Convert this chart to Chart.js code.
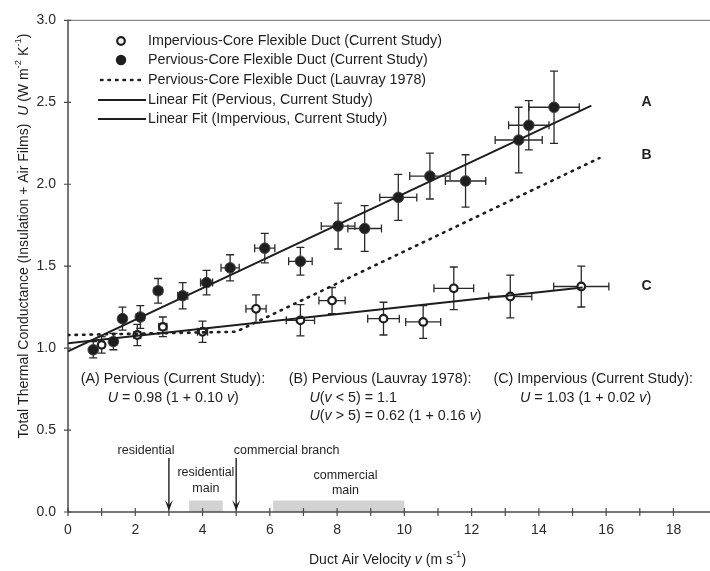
<!DOCTYPE html>
<html><head><meta charset="utf-8">
<script src="https://cdn.jsdelivr.net/npm/chart.js@4.4.1/dist/chart.umd.min.js"></script>
<style>html,body{margin:0;padding:0;background:#fff;overflow:hidden}canvas{display:block}</style>
</head><body>
<canvas id="c" width="710" height="571"></canvas>
<script>
const FONT = '"Liberation Sans", Arial, Helvetica, sans-serif';

// Pervious-core (filled) measurements
const pervV    = [0.75, 1.35, 1.62, 2.15, 2.68, 3.41, 4.12, 4.82, 5.85, 6.91, 8.03, 8.82, 9.82, 10.76, 11.82, 13.4, 13.7, 14.45];
const pervU    = [0.99, 1.04, 1.18, 1.19, 1.35, 1.32, 1.40, 1.49, 1.61, 1.53, 1.745, 1.73, 1.92, 2.05, 2.02, 2.27, 2.36, 2.47];
const pervVErr = [0.08, 0.10, 0.10, 0.12, 0.12, 0.15, 0.18, 0.27, 0.30, 0.35, 0.50, 0.50, 0.55, 0.60, 0.60, 0.70, 0.60, 0.75];
const pervUErr = [0.05, 0.05, 0.07, 0.07, 0.075, 0.08, 0.075, 0.08, 0.09, 0.085, 0.14, 0.14, 0.14, 0.14, 0.16, 0.20, 0.15, 0.22];

// Impervious-core (open) measurements
const imperV    = [1.0, 2.06, 2.82, 4.0, 5.59, 6.91, 7.85, 9.38, 10.56, 11.47, 13.15, 15.26];
const imperU    = [1.02, 1.08, 1.13, 1.10, 1.24, 1.17, 1.29, 1.18, 1.16, 1.365, 1.315, 1.376];
const imperVErr = [0.08, 0.10, 0.12, 0.15, 0.30, 0.42, 0.39, 0.47, 0.52, 0.59, 0.64, 0.82];
const imperUErr = [0.05, 0.065, 0.06, 0.065, 0.085, 0.095, 0.08, 0.10, 0.10, 0.13, 0.13, 0.125];

// Lines
const fitAV = [0, 15.56], fitAU = [0.98, 2.48];
const fitCV = [0, 15.3],  fitCU = [1.03, 1.37];
const lauvV = [0, 5, 15.8], lauvU = [1.08, 1.10, 2.16];

// Velocity ranges & markers
const boxFrom = [3.6, 6.1], boxTo = [4.6, 10.0], boxTop = [0.07, 0.07];
const arrowV = [3, 5], arrowTop = [0.33, 0.33];

// Ticks
const xTickValues = [0,1,2,3,4,5,6,7,8,9,10,11,12,13,14,15,16,17,18];
const xLabelValues = [0,2,4,6,8,10,12,14,16,18];
const yTickValues = [0, 0.5, 1.0, 1.5, 2.0, 2.5, 3.0];

const pts = (xs, ys) => xs.map((v, i) => ({x: v, y: ys[i]}));
const INK = '#1e1e1e';

function rich(ctx, parts, x, y, size, align) {
  const fontFor = (st, sz) => (st && st.includes('i') ? 'italic ' : '') + (st && st.includes('b') ? 'bold ' : '') + sz + 'px ' + FONT;
  let total = 0;
  parts.forEach(p => { const sz = p[1] && p[1].includes('s') ? size * 0.68 : size; ctx.font = fontFor(p[1], sz); total += ctx.measureText(p[0]).width; });
  let cx = align === 'center' ? x - total / 2 : (align === 'right' ? x - total : x);
  ctx.textAlign = 'left'; ctx.textBaseline = 'middle';
  parts.forEach(p => {
    const sup = p[1] && p[1].includes('s');
    const sz = sup ? size * 0.68 : size;
    ctx.font = fontFor(p[1], sz);
    ctx.fillText(p[0], cx, sup ? y - size * 0.38 : y);
    cx += ctx.measureText(p[0]).width;
  });
}

const deco = {
  id: 'deco',
  beforeDatasetsDraw(chart) {
    const {ctx, scales: {x, y}} = chart;
    ctx.save();
    ctx.fillStyle = '#d2d2d2';
    boxFrom.forEach((f, i) => {
      const x0 = x.getPixelForValue(f), x1 = x.getPixelForValue(boxTo[i]);
      const y0 = y.getPixelForValue(boxTop[i]), y1 = y.getPixelForValue(0);
      ctx.fillRect(x0, y0, x1 - x0, y1 - y0);
    });
    ctx.strokeStyle = '#4a4a4a'; ctx.lineWidth = 1.5;
    const y0 = y.getPixelForValue(0), yTop = y.getPixelForValue(3), x0 = x.getPixelForValue(0);
    ctx.beginPath();
    ctx.moveTo(x0, yTop); ctx.lineTo(x0, y0); ctx.lineTo(chart.width, y0);
    ctx.stroke();
    ctx.strokeStyle = '#8a8a8a'; ctx.lineWidth = 1.3;
    ctx.beginPath(); ctx.moveTo(x0, yTop); ctx.lineTo(chart.width, yTop); ctx.stroke();
    ctx.strokeStyle = '#4a4a4a'; ctx.lineWidth = 1.2;
    ctx.beginPath();
    xTickValues.forEach(v => { const px = x.getPixelForValue(v); ctx.moveTo(px, y0 - 4); ctx.lineTo(px, y0 + 4); });
    yTickValues.forEach(v => { const py = y.getPixelForValue(v); ctx.moveTo(x0 - 4, py); ctx.lineTo(x0 + 3, py); });
    ctx.stroke();
    ctx.strokeStyle = INK; ctx.fillStyle = INK; ctx.lineWidth = 1.4;
    arrowV.forEach((v, i) => {
      const px = x.getPixelForValue(v), pt = y.getPixelForValue(arrowTop[i]), pb = y.getPixelForValue(0) - 1;
      ctx.beginPath(); ctx.moveTo(px, pt); ctx.lineTo(px, pb - 4); ctx.stroke();
      ctx.beginPath(); ctx.moveTo(px - 4, pb - 11); ctx.lineTo(px, pb - 6); ctx.lineTo(px + 4, pb - 11); ctx.lineTo(px, pb); ctx.closePath(); ctx.fill();
    });
    ctx.strokeStyle = '#2a2a2a'; ctx.lineWidth = 1.3;
    const eb = (vs, us, ve, ue) => vs.forEach((v, i) => {
      const px = x.getPixelForValue(v), py = y.getPixelForValue(us[i]);
      const yt = y.getPixelForValue(us[i] + ue[i]), yb = y.getPixelForValue(us[i] - ue[i]);
      const xl = x.getPixelForValue(v - ve[i]), xr = x.getPixelForValue(v + ve[i]);
      const c = 4;
      ctx.beginPath();
      ctx.moveTo(px, yt); ctx.lineTo(px, yb);
      ctx.moveTo(px - c, yt); ctx.lineTo(px + c, yt);
      ctx.moveTo(px - c, yb); ctx.lineTo(px + c, yb);
      ctx.moveTo(xl, py); ctx.lineTo(xr, py);
      ctx.moveTo(xl, py - c); ctx.lineTo(xl, py + c);
      ctx.moveTo(xr, py - c); ctx.lineTo(xr, py + c);
      ctx.stroke();
    });
    eb(pervV, pervU, pervVErr, pervUErr);
    eb(imperV, imperU, imperVErr, imperUErr);
    ctx.restore();
  },
  afterDraw(chart) {
    const {ctx, scales: {x, y}} = chart;
    ctx.save();
    ctx.fillStyle = INK;
    const P = (v, u) => [x.getPixelForValue(v), y.getPixelForValue(u)];
    rich(ctx, [['Duct Air Velocity '], ['v', 'i'], [' (m s'], ['-1', 's'], [')']], x.getPixelForValue(9.5), 560, 14, 'center');
    ctx.save();
    ctx.translate(24, 236); ctx.rotate(-Math.PI / 2);
    rich(ctx, [['Total Thermal Conductance (Insulation + Air Films)  '], ['U', 'i'], [' (W m'], ['-2', 's'], [' K'], ['-1', 's'], [')']], 0, 0, 14, 'center');
    ctx.restore();
    const lx = 148, ly = [41, 60, 80, 100, 119], fs = 14.3;
    ctx.strokeStyle = INK; ctx.fillStyle = INK;
    ctx.lineWidth = 2.2;
    ctx.beginPath(); ctx.arc(121, ly[0], 3.8, 0, Math.PI * 2); ctx.fillStyle = '#fff'; ctx.fill(); ctx.stroke();
    ctx.fillStyle = INK;
    ctx.beginPath(); ctx.arc(121, ly[1], 5.2, 0, Math.PI * 2); ctx.fill();
    ctx.setLineDash([1.5, 6]); ctx.lineCap = 'round'; ctx.lineWidth = 2.6;
    ctx.beginPath(); ctx.moveTo(101, ly[2]); ctx.lineTo(146, ly[2]); ctx.stroke();
    ctx.setLineDash([]); ctx.lineCap = 'butt'; ctx.lineWidth = 1.8;
    ctx.beginPath(); ctx.moveTo(98, ly[3]); ctx.lineTo(146, ly[3]); ctx.moveTo(98, ly[4]); ctx.lineTo(146, ly[4]); ctx.stroke();
    const legendTexts = ['Impervious-Core Flexible Duct (Current Study)', 'Pervious-Core Flexible Duct (Current Study)',
      'Pervious-Core Flexible Duct (Lauvray 1978)', 'Linear Fit (Pervious, Current Study)', 'Linear Fit (Impervious, Current Study)'];
    legendTexts.forEach((t, i) => rich(ctx, [[t]], lx, ly[i], fs, 'left'));
    [['A', 2.50], ['B', 2.18], ['C', 1.376]].forEach(([t, u]) => { const [px, py] = P(17.2, u); rich(ctx, [[t, 'b']], px, py, 14, 'center'); });
    const eq = 14.3;
    let p;
    p = P(0.38, 0.81); rich(ctx, [['(A) Pervious (Current Study):']], p[0], p[1], eq, 'left');
    p = P(1.18, 0.695); rich(ctx, [['U', 'i'], [' = 0.98 (1 + 0.10 '], ['v', 'i'], [')']], p[0], p[1], eq, 'left');
    p = P(6.56, 0.81); rich(ctx, [['(B) Pervious (Lauvray 1978):']], p[0], p[1], eq, 'left');
    p = P(7.18, 0.695); rich(ctx, [['U', 'i'], ['('], ['v', 'i'], [' < 5) = 1.1']], p[0], p[1], eq, 'left');
    p = P(7.18, 0.585); rich(ctx, [['U', 'i'], ['('], ['v', 'i'], [' > 5) = 0.62 (1 + 0.16 '], ['v', 'i'], [')']], p[0], p[1], eq, 'left');
    p = P(12.65, 0.81); rich(ctx, [['(C) Impervious (Current Study):']], p[0], p[1], eq, 'left');
    p = P(13.44, 0.695); rich(ctx, [['U', 'i'], [' = 1.03 (1 + 0.02 '], ['v', 'i'], [')']], p[0], p[1], eq, 'left');
    const an = 12.5;
    p = P(2.32, 0.375); rich(ctx, [['residential']], p[0], p[1], an, 'center');
    p = P(4.93, 0.375); rich(ctx, [['commercial branch']], p[0], p[1], an, 'left');
    p = P(4.1, 0.24); rich(ctx, [['residential']], p[0], p[1], an, 'center');
    p = P(4.1, 0.145); rich(ctx, [['main']], p[0], p[1], an, 'center');
    p = P(8.25, 0.225); rich(ctx, [['commercial']], p[0], p[1], an, 'center');
    p = P(8.25, 0.13); rich(ctx, [['main']], p[0], p[1], an, 'center');
    ctx.restore();
  }
};

new Chart(document.getElementById('c'), {
  type: 'scatter',
  data: {
    datasets: [
      { label: 'Linear Fit (Pervious, Current Study)', type: 'line', data: pts(fitAV, fitAU), borderColor: INK, borderWidth: 1.9, pointRadius: 0, fill: false },
      { label: 'Linear Fit (Impervious, Current Study)', type: 'line', data: pts(fitCV, fitCU), borderColor: INK, borderWidth: 1.9, pointRadius: 0, fill: false },
      { label: 'Pervious-Core Flexible Duct (Lauvray 1978)', type: 'line', data: pts(lauvV, lauvU), borderColor: INK, borderWidth: 2.6, borderDash: [1.5, 6], borderCapStyle: 'round', pointRadius: 0, fill: false },
      { label: 'Pervious-Core Flexible Duct (Current Study)', data: pts(pervV, pervU), pointRadius: 5.3, backgroundColor: INK, borderColor: '#444', borderWidth: 1 },
      { label: 'Impervious-Core Flexible Duct (Current Study)', data: pts(imperV, imperU), pointRadius: 3.8, backgroundColor: '#fff', borderColor: INK, borderWidth: 2.2 }
    ]
  },
  options: {
    responsive: false, animation: false, devicePixelRatio: 1,
    layout: { padding: { top: 17, right: 0, left: 0, bottom: 0 } },
    plugins: { legend: { display: false }, tooltip: { enabled: false } },
    scales: {
      x: {
        type: 'linear', min: 0, max: 18.9,
        grid: { display: false, drawTicks: false }, border: { display: false },
        afterBuildTicks: s => { s.ticks = xLabelValues.map(v => ({ value: v })); },
        afterFit: s => { s.height = 59; },
        ticks: { padding: 10, color: '#2a2a2a', font: { family: FONT, size: 14 }, maxRotation: 0, autoSkip: false, callback: v => String(v) }
      },
      y: {
        type: 'linear', min: 0, max: 3,
        grid: { display: false, drawTicks: false }, border: { display: false },
        afterBuildTicks: s => { s.ticks = yTickValues.map(v => ({ value: v })); },
        afterFit: s => { s.width = 68; },
        ticks: { padding: 12, color: '#2a2a2a', font: { family: FONT, size: 14 }, autoSkip: false, callback: v => v.toFixed(1) }
      }
    }
  },
  plugins: [deco]
});
</script>
</body></html>
